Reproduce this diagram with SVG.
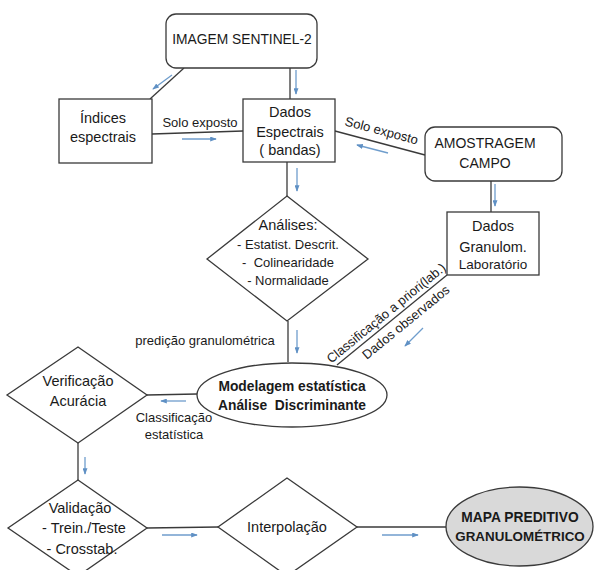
<svg xmlns="http://www.w3.org/2000/svg" width="595" height="570" viewBox="0 0 595 570">
<defs>
<marker id="ah" viewBox="0 0 8 6" refX="7" refY="3" markerWidth="7" markerHeight="5" markerUnits="userSpaceOnUse" orient="auto">
<path d="M0,0 L8,3 L0,6 Z" fill="#5f90c4"/>
</marker>
<style>
.box{fill:#fff;stroke:#3a3a3a;stroke-width:1.3}
.ln{fill:none;stroke:#3a3a3a;stroke-width:1.3}
.ar{fill:none;stroke:#6f9dcc;stroke-width:1.3;marker-end:url(#ah)}
text{font-family:"Liberation Sans",Arial,sans-serif;fill:#1a1a1a;text-anchor:middle}
.t14{font-size:14.5px}
.t13{font-size:13px}
.b{font-size:13.8px;font-weight:bold}
</style>
</defs>
<rect width="595" height="570" fill="#fff"/>

<g id="connectors">
<line class="ln" x1="290" y1="68" x2="290" y2="99"/>
<line class="ar" x1="296" y1="70" x2="296" y2="94"/>
<line class="ln" x1="184" y1="68" x2="150" y2="99"/>
<line class="ar" x1="172" y1="75" x2="153" y2="89"/>
<line class="ln" x1="152" y1="134" x2="243" y2="131"/>
<line class="ar" x1="182" y1="139" x2="216" y2="139"/>
<line class="ln" x1="425" y1="155" x2="335" y2="131"/>
<line class="ar" x1="388" y1="153" x2="357" y2="145"/>
<line class="ln" x1="287" y1="162" x2="287" y2="196"/>
<line class="ar" x1="297" y1="168" x2="297" y2="191"/>
<line class="ln" x1="491" y1="181" x2="491" y2="212"/>
<line class="ar" x1="495" y1="184" x2="495" y2="206"/>
<line class="ln" x1="288" y1="321" x2="288" y2="362"/>
<line class="ar" x1="297" y1="330" x2="297" y2="353"/>
<line class="ln" x1="447" y1="275" x2="337" y2="365"/>
<line class="ar" x1="423" y1="328" x2="405" y2="346"/>
<line class="ln" x1="197" y1="394" x2="147" y2="395"/>
<line class="ar" x1="186" y1="401" x2="161" y2="401"/>
<line class="ln" x1="78" y1="443" x2="78" y2="480"/>
<line class="ar" x1="85" y1="457" x2="85" y2="474"/>
<line class="ln" x1="147" y1="528" x2="218" y2="527"/>
<line class="ar" x1="162" y1="535" x2="197" y2="535"/>
<line class="ln" x1="357" y1="527" x2="446" y2="527"/>
<line class="ar" x1="382" y1="535" x2="418" y2="535"/>
<text class="t13" x="200" y="127">Solo exposto</text>
<text class="t13" x="380.4" y="134.9" transform="rotate(14.9 380.4 134.9)">Solo exposto</text>
<text class="t13" x="205" y="345">predição granulométrica</text>
<text class="t13" x="389" y="316.5" transform="rotate(-39.3 389 316.5)">Classificação a priori(lab.)</text>
<text class="t13" x="408.7" y="325.7" transform="rotate(-39.3 408.7 325.7)">Dados observados</text>
<text class="t13" x="174" y="422">Classificação</text>
<text class="t13" x="174" y="439">estatística</text>
</g>

<g id="imagem">
<rect class="box" x="166" y="14" width="151" height="54" rx="10"/>
<text class="t14" x="242" y="44" style="font-size:13.8px">IMAGEM SENTINEL-2</text>
</g>

<g id="indices">
<rect class="box" x="59" y="99" width="93" height="64"/>
<text class="t14" x="103" y="123">Índices</text>
<text class="t14" x="103" y="142">espectrais</text>
</g>

<g id="dados-espectrais">
<rect class="box" x="243" y="99" width="92" height="63"/>
<text class="t14" x="290" y="117">Dados</text>
<text class="t14" x="290" y="137">Espectrais</text>
<text class="t14" x="290" y="155">( bandas)</text>
</g>

<g id="amostragem">
<rect class="box" x="425" y="127" width="137" height="54" rx="10"/>
<text class="t14" x="485" y="148" style="font-size:14px">AMOSTRAGEM</text>
<text class="t14" x="485" y="168" style="font-size:14px">CAMPO</text>
</g>

<g id="dados-granulom">
<rect class="box" x="447" y="212" width="92" height="63"/>
<text class="t14" x="493" y="231">Dados</text>
<text class="t14" x="493" y="252">Granulom.</text>
<text class="t13" x="493" y="269" style="font-size:13.5px">Laboratório</text>
</g>

<g id="analises">
<polygon class="box" points="287,196 368,259 287,321 207,259"/>
<text class="t14" x="288" y="230">Análises:</text>
<text class="t13" x="288" y="249">- Estatist. Descrit.</text>
<text class="t13" x="288" y="267" xml:space="preserve">-  Colinearidade</text>
<text class="t13" x="288" y="285">- Normalidade</text>
</g>

<g id="modelagem">
<ellipse class="box" cx="292" cy="395" rx="95" ry="32"/>
<text class="b" x="292" y="391">Modelagem estatística</text>
<text class="b" x="292" y="410" xml:space="preserve">Análise  Discriminante</text>
</g>

<g id="verificacao">
<polygon class="box" points="78,347 147,395 78,443 7,395"/>
<text class="t14" x="78" y="386">Verificação</text>
<text class="t14" x="78" y="406">Acurácia</text>
</g>

<g id="validacao">
<polygon class="box" points="78,480 147,528 78,576 8,528"/>
<text class="t14" x="80" y="513">Validação</text>
<text class="t14" x="84" y="533">- Trein./Teste</text>
<text class="t14" x="82" y="554">- Crosstab.</text>
</g>

<g id="interpolacao">
<polygon class="box" points="287,478 357,527 287,576 218,527"/>
<text class="t14" x="287" y="532">Interpolação</text>
</g>

<g id="mapa">
<ellipse class="box" cx="519.5" cy="526.5" rx="73.5" ry="39.5" style="fill:#d9d9d9"/>
<text class="b" x="520" y="522">MAPA PREDITIVO</text>
<text class="b" x="520" y="541" style="font-size:13.4px">GRANULOMÉTRICO</text>
</g>
</svg>
